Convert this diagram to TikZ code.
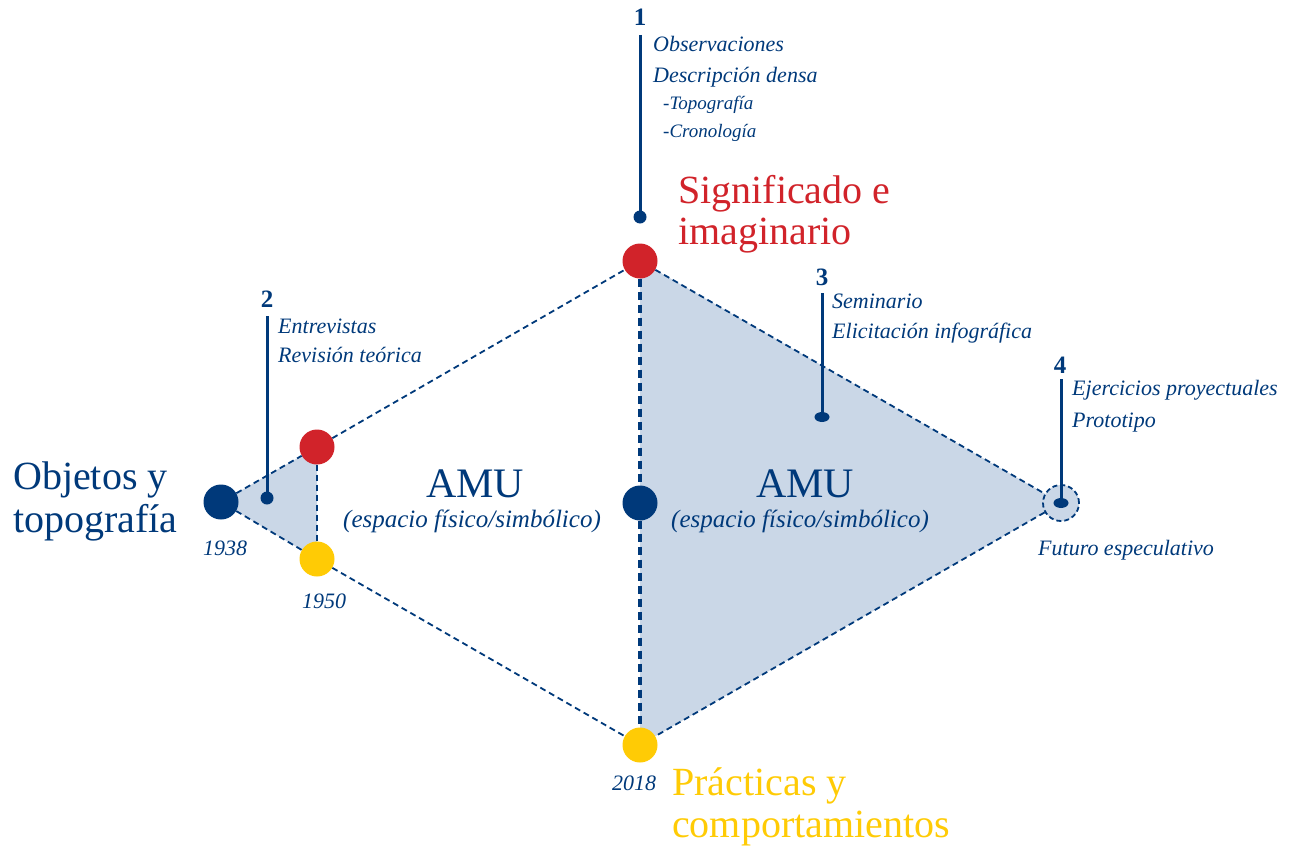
\documentclass[tikz,border=0pt]{standalone}
\usepackage{fontspec}
\IfFontExistsTF{LiberationSerif-Regular.ttf}
  {\setmainfont{LiberationSerif}[Extension=.ttf,UprightFont=*-Regular,BoldFont=*-Bold,ItalicFont=*-Italic,BoldItalicFont=*-BoldItalic]}
  {\setmainfont{Liberation Serif}}
\usetikzlibrary{shapes.geometric}
\definecolor{navy}{HTML}{00397A}
\definecolor{rojo}{HTML}{D1232A}
\definecolor{amarillo}{HTML}{FFCB05}
\definecolor{relleno}{HTML}{CAD7E7}
\begin{document}
\begin{tikzpicture}[x=1pt,y=-1pt,
  borde/.style={navy,line width=1.8pt,dash pattern=on 6pt off 4pt},
  eje/.style={navy,line width=4pt,dash pattern=on 8pt off 5pt},
  punto/.style={circle,fill=#1,minimum size=35pt,inner sep=0pt},
  marca/.style={navy,line width=3pt},
  extremo/.style={ellipse,fill=navy,minimum width=#1,minimum height=10pt,inner sep=0pt},
  num/.style={navy,anchor=base,inner sep=0pt,font=\fontsize{25}{30}\selectfont\bfseries},
  nota/.style={navy,anchor=base west,inner sep=0pt,font=\fontsize{22}{30}\selectfont\itshape},
  sub/.style={navy,anchor=base west,inner sep=0pt,font=\fontsize{19}{26}\selectfont\itshape},
  grande/.style={anchor=base west,inner sep=0pt,font=\fontsize{40}{42}\selectfont},
  amu/.style={navy,anchor=base,inner sep=0pt,font=\fontsize{42}{44}\selectfont},
  esp/.style={navy,anchor=base,inner sep=0pt,font=\fontsize{25}{30}\selectfont\itshape}]

\useasboundingbox (0,0) rectangle (1289,851);

% vertices
\coordinate (A) at (640,261);
\coordinate (C) at (640,745);
\coordinate (M) at (640,503);
\coordinate (L) at (221,502);
\coordinate (R) at (1061,503);
\coordinate (r) at (317,447);
\coordinate (y) at (317,559);

\fill[relleno] (A)--(R)--(C)--cycle;
\fill[relleno] (L)--(r)--(y)--cycle;

\node[punto=rojo] (pA) at (A) {};
\node[punto=amarillo] (pC) at (C) {};
\node[punto=navy] (pM) at (M) {};
\node[punto=navy] (pL) at (L) {};
\node[punto=rojo] (pr) at (r) {};
\node[punto=amarillo] (py) at (y) {};
\node[circle,fill=relleno,draw=navy,line width=1.8pt,dash pattern=on 5pt off 3pt,minimum size=36pt,inner sep=0pt] (pR) at (R) {};

\draw[borde] (pL)--(pr);
\draw[borde] (pr)--(pA);
\draw[borde] (pL)--(py);
\draw[borde] (py)--(pC);
\draw[borde] (pr)--(py);
\draw[borde] (pA)--(pR);
\draw[borde] (pR)--(pC);
\draw[eje] (pA)--(pM);
\draw[eje] (pM)--(pC);

% marcas
\node[num] (n1) at (640,26) {1};
\node[num] (n2) at (267,307) {2};
\node[num] (n3) at (822,285) {3};
\node[num] (n4) at (1060,373) {4};
\coordinate (t1) at (640,35);
\coordinate (t2) at (267,316);
\coordinate (t3) at (822,293);
\coordinate (t4) at (1061,379);
\node[extremo=13pt,minimum height=13pt] (d1) at (640,217) {};
\node[extremo=13pt,minimum height=13pt] (d2) at (267,498) {};
\node[extremo=15pt] (d3) at (822,417) {};
\node[extremo=15pt] (d4) at (R) {};
\draw[marca] (t1)--(d1.center);
\draw[marca] (t2)--(d2.center);
\draw[marca] (t3)--(d3.center);
\draw[marca] (t4)--(d4.center);

\node[nota] (o1) at (653,52) {Observaciones};
\node[nota] (o2) at (653,82) {Descripción densa};
\node[sub] (o3) at (663,109) {-Topografía};
\node[sub] (o4) at (663,137) {-Cronología};
\node[nota] (e1) at (278,333) {Entrevistas};
\node[nota] (e2) at (278,362) {Revisión teórica};
\node[nota] (s1) at (832,308) {Seminario};
\node[nota] (s2) at (832,338) {Elicitación infográfica};
\node[nota] (p1) at (1072,395) {Ejercicios proyectuales};
\node[nota] (p2) at (1072,427) {Prototipo};
\node[nota] (f) at (1038,555) {Futuro especulativo};

\node[nota] (y1) at (203,555) {1938};
\node[nota] (y2) at (302,608) {1950};
\node[nota] (y3) at (612,790) {2018};

\node[grande,rojo] (g1) at (678,203) {Significado e};
\node[grande,rojo] (g2) at (678,244) {imaginario};
\node[grande,navy] (g3) at (13,489) {Objetos y};
\node[grande,navy] (g4) at (13,532) {topografía};
\node[grande,amarillo] (g5) at (672,795) {Prácticas y};
\node[grande,amarillo] (g6) at (672,837) {comportamientos};

\node[amu] (u1) at (475,497) {AMU};
\node[esp] (u2) at (472,527) {(espacio físico/simbólico)};
\node[amu] (u3) at (805,497) {AMU};
\node[esp] (u4) at (800,527) {(espacio físico/simbólico)};
\end{tikzpicture}
\end{document}
